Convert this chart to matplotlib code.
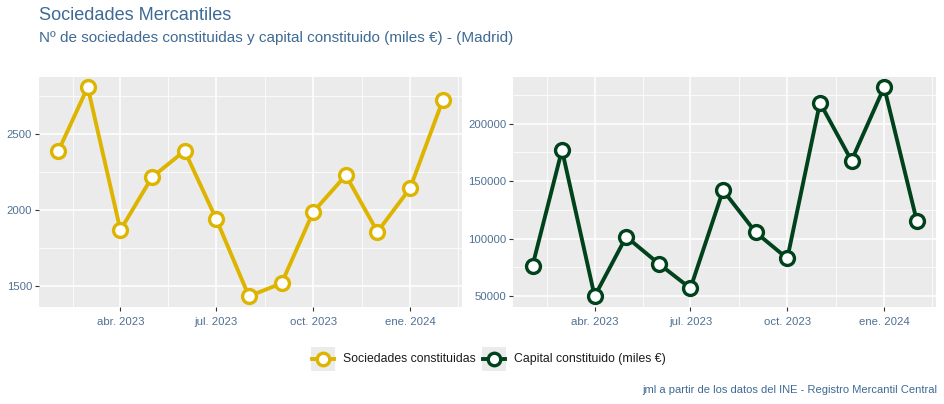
import datetime
import matplotlib
matplotlib.use("Agg")
import matplotlib.pyplot as plt
import matplotlib.dates as mdates
from matplotlib.lines import Line2D
from matplotlib.patches import Rectangle

plt.rcParams['font.family'] = ['Liberation Sans', 'DejaVu Sans']

# ---- data ----
months = [datetime.date(2023, m, 1) for m in range(2, 13)] + [datetime.date(2024, 1, 1), datetime.date(2024, 2, 1)]
sociedades = [2385, 2806, 1868, 2215, 2388, 1940, 1434, 1519, 1987, 2228, 1857, 2143, 2720]
capital = [76500, 177100, 50000, 101700, 78200, 56900, 142000, 105500, 82800, 218100, 167800, 231600, 115500]
series_names = ["Sociedades constituidas", "Capital constituido (miles €)"]
tick_dates = [datetime.date(2023, 4, 1), datetime.date(2023, 7, 1), datetime.date(2023, 10, 1), datetime.date(2024, 1, 1)]
tick_labels = ["abr. 2023", "jul. 2023", "oct. 2023", "ene. 2024"]
left_yticks = [1500, 2000, 2500]
right_yticks = [50000, 100000, 150000, 200000]

title = "Sociedades Mercantiles"
subtitle = "Nº de sociedades constituidas y capital constituido (miles €) - (Madrid)"
caption = "jml a partir de los datos del INE - Registro Mercantil Central"

yellow = "#DDB400"
green = "#00421C"
txtblue = "#3E6A94"
ticklab = "#4F7093"
bg = "#EBEBEB"

W, H = 944, 404
fig = plt.figure(figsize=(W / 100, H / 100), dpi=100)


def px_axes(x0, y0, x1, y1):
    return fig.add_axes([x0 / W, 1 - y1 / H, (x1 - x0) / W, (y1 - y0) / H])


def style(ax, x, y, color, yticks):
    ax.set_facecolor(bg)
    for s in ax.spines.values():
        s.set_visible(False)
    xn = mdates.date2num(x)
    ticks_n = mdates.date2num(tick_dates)
    ax.set_xticks(ticks_n)
    ax.set_xticklabels(tick_labels)
    ax.set_yticks(yticks)
    ax.set_yticklabels([str(v) for v in yticks])
    # minor grid: midpoints of breaks
    allx = [ticks_n[0] - 90] + list(ticks_n) + [ticks_n[-1] + 91]
    minx = [(a + b) / 2 for a, b in zip(allx[:-1], allx[1:])]
    dy = yticks[1] - yticks[0]
    ally = [yticks[0] - dy] + list(yticks) + [yticks[-1] + dy]
    miny = [(a + b) / 2 for a, b in zip(ally[:-1], ally[1:])]
    ax.set_xticks(minx, minor=True)
    ax.set_yticks(miny, minor=True)
    # limits (ggplot 5% expansion), set after ticks
    span = xn[-1] - xn[0]
    ax.set_xlim(xn[0] - 0.05 * span, xn[-1] + 0.05 * span)
    ymin, ymax = min(y), max(y)
    ax.set_ylim(ymin - 0.05 * (ymax - ymin), ymax + 0.05 * (ymax - ymin))
    ax.grid(True, which='major', color='white', linewidth=1.1)
    ax.grid(True, which='minor', color='white', linewidth=0.55)
    ax.set_axisbelow(True)
    ax.tick_params(which='minor', length=0)
    ax.tick_params(which='major', length=3, width=0.8, color='#333333',
                   labelcolor=ticklab, labelsize=8.2, pad=2)
    ax.tick_params(axis='x', which='major', pad=4.5)
    ax.plot(xn, y, color=color, linewidth=2.8, marker='o', markersize=10,
            markerfacecolor='white', markeredgecolor=color, markeredgewidth=2.4,
            solid_joinstyle='round', zorder=3)


ax1 = px_axes(39, 76.7, 462, 306.7)
style(ax1, months, sociedades, yellow, left_yticks)
ax2 = px_axes(513.3, 76.7, 936, 306.7)
style(ax2, months, capital, green, right_yticks)

fig.text(39 / W, 1 - 15 / H, title, color=txtblue, fontsize=13.1, va='center', ha='left')
fig.text(39 / W, 1 - 38 / H, subtitle, color=txtblue, fontsize=11, va='center', ha='left')
fig.text(937 / W, 1 - 390 / H, caption, color=txtblue, fontsize=8, va='center', ha='right')

# legend drawn as ggplot-like keys
keys_x = [311, 482]
for kx, name, col in zip(keys_x, series_names, [yellow, green]):
    fig.add_artist(Rectangle((kx / W, 1 - 371 / H), 24 / W, 24 / H,
                             transform=fig.transFigure, facecolor=bg, edgecolor='none'))
    fig.add_artist(Line2D([(kx + 1) / W, (kx + 23) / W], [1 - 359 / H, 1 - 359 / H],
                          transform=fig.transFigure, color=col, linewidth=2.8))
    fig.add_artist(Line2D([(kx + 12) / W], [1 - 359 / H], transform=fig.transFigure,
                          marker='o', markersize=9, markerfacecolor='white',
                          markeredgecolor=col, markeredgewidth=2.4, linestyle='none'))
    fig.text((kx + 32) / W, 1 - 359 / H, name, color='#1A1A1A', fontsize=8.85, va='center', ha='left')

fig.savefig("out.png", dpi=100)
